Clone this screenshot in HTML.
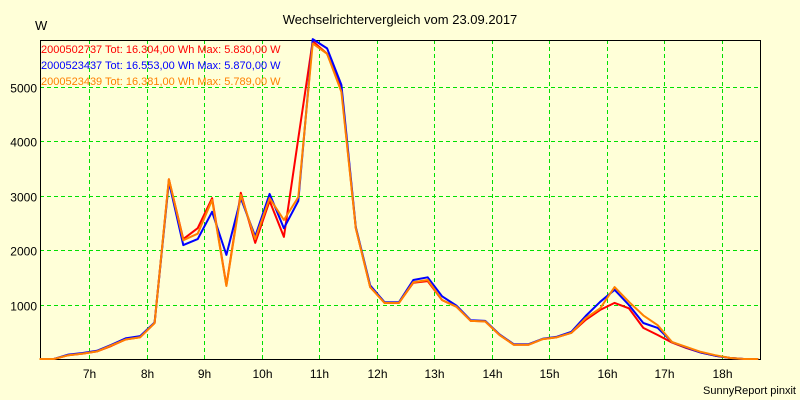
<!DOCTYPE html>
<html><head><meta charset="utf-8"><style>
html,body{margin:0;padding:0;background:#ffffd8;}
svg{display:block;font-family:"Liberation Sans",sans-serif;}
</style></head><body>
<svg id="chart" width="800" height="400">
<rect x="0" y="0" width="800" height="400" fill="#ffffd8"/>
<text x="400" y="24" font-size="13" text-anchor="middle" fill="#000">Wechselrichtervergleich vom 23.09.2017</text>
<text x="35" y="30" font-size="13" fill="#000">W</text>
<text x="796" y="394" font-size="11" text-anchor="end" fill="#000">SunnyReport pinxit</text>
<g id="grid"></g><g id="axes"></g><g id="series"></g><g id="legend"></g>
</svg>
<script>
const yTicks = [1000,2000,3000,4000,5000];
const xTicks = [7,8,9,10,11,12,13,14,15,16,17,18];
const startHour = 6.14, stepHour = 0.25;
const seriesNames = ["2000502737 Tot: 16.304,00 Wh Max: 5.830,00 W","2000523437 Tot: 16.553,00 Wh Max: 5.870,00 W","2000523439 Tot: 16.381,00 Wh Max: 5.789,00 W"];
const seriesColors = ["#ff0000","#0000ff","#ff8000"];
const redVals = [0,0,70,100,140,240,360,400,660,3300,2200,2400,2950,1350,3050,2130,2900,2240,4050,5830,5600,4950,2400,1320,1030,1030,1400,1430,1080,960,700,690,440,260,260,365,400,480,720,900,1030,930,570,440,300,200,120,60,20,0,0];
const blueVals = [0,0,80,110,150,260,380,420,670,3250,2090,2200,2700,1910,2950,2250,3030,2400,2900,5870,5700,5030,2420,1350,1040,1040,1450,1500,1150,980,710,700,450,270,270,370,410,500,790,1050,1270,990,660,570,310,210,120,60,20,0,0];
const orangeVals = [0,0,70,100,140,250,360,400,660,3300,2180,2300,2920,1340,3010,2200,2950,2550,2970,5790,5600,4900,2400,1320,1030,1030,1410,1450,1080,960,700,690,440,260,260,365,400,480,750,930,1320,1050,800,620,310,220,130,70,20,0,0];
const allSeries = [redVals, blueVals, orangeVals];

const L=40,R=760,T=40,B=359;
const xScale = h => 89 + (h-7)*57.5;
const yScale = v => B - v*0.0545;
const NS="http://www.w3.org/2000/svg";
function mk(tag, parent){const e=document.createElementNS(NS,tag);parent.appendChild(e);return e;}
const grid=document.getElementById('grid'), axes=document.getElementById('axes'), ser=document.getElementById('series'), leg=document.getElementById('legend');

yTicks.forEach(v=>{
  const y=Math.round(yScale(v))+0.5;
  const l=mk('line',grid);
  
  
  l.setAttribute('x1',L);l.setAttribute('x2',R);l.setAttribute('y1',y);l.setAttribute('y2',y);
  l.setAttribute('stroke','#00e000');l.setAttribute('stroke-dasharray','4,3');
  const t=mk('text',axes);
  
  
  t.setAttribute('x',37);t.setAttribute('y',y+5);t.setAttribute('text-anchor','end');t.setAttribute('font-size','12');
  t.textContent=v;
});
xTicks.forEach(h=>{
  const x=Math.round(xScale(h))+0.5;
  const l=mk('line',grid);
  
  
  l.setAttribute('x1',x);l.setAttribute('x2',x);l.setAttribute('y1',T);l.setAttribute('y2',B);
  l.setAttribute('stroke','#00e000');l.setAttribute('stroke-dasharray','4,3');
  const t=mk('text',axes);
  
  
  t.setAttribute('x',x);t.setAttribute('y',378);t.setAttribute('text-anchor','middle');t.setAttribute('font-size','12');
  t.textContent=h+'h';
});
const frame=mk('path',axes);


frame.setAttribute('d',`M${L+0.5},${T+0.5}H${R+0.5}V${B+0.5}H${L+0.5}Z`);
frame.setAttribute('fill','none');frame.setAttribute('stroke','#000');

allSeries.forEach((vals,i)=>{
  const p=mk('polyline',ser);
  
  
  p.setAttribute('points',vals.map((v,k)=>xScale(startHour+k*stepHour).toFixed(1)+','+yScale(v).toFixed(1)).join(' '));
  p.setAttribute('fill','none');p.setAttribute('stroke',seriesColors[i]);p.setAttribute('stroke-width','2');
  p.setAttribute('stroke-linejoin','round');
  const t=mk('text',leg);
  
  
  t.setAttribute('x',41);t.setAttribute('y',53+i*16);t.setAttribute('font-size','11');t.setAttribute('fill',seriesColors[i]);
  t.textContent=seriesNames[i];
});
</script>
</body></html>
